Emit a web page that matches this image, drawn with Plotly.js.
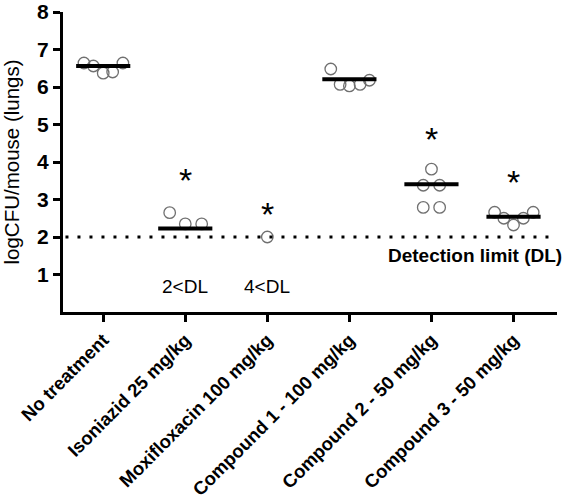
<!DOCTYPE html>
<html><head><meta charset="utf-8">
<script src="https://cdn.plot.ly/plotly-3.0.1.min.js"></script>
<style>html,body{margin:0;padding:0;background:#fff}#chart{width:566px;height:503px}</style>
</head><body><div id="chart"></div>
<script>
// ---- data ----
const categories = ["No treatment", "Isoniazid 25 mg/kg", "Moxifloxacin 100 mg/kg",
  "Compound 1 - 100 mg/kg", "Compound 2 - 50 mg/kg", "Compound 3 - 50 mg/kg"];
const noTreatment   = [6.64, 6.56, 6.37, 6.40, 6.64];
const isoniazid     = [2.65, 2.35, 2.35];          // 2 mice < DL
const moxifloxacin  = [2.00];                      // 4 mice < DL
const compound1     = [6.48, 6.07, 6.03, 6.07, 6.18];
const compound2     = [3.81, 3.38, 3.38, 2.79, 2.79];
const compound3     = [2.66, 2.50, 2.32, 2.50, 2.66];
const medians       = [6.56, 2.23, null, 6.21, 3.41, 2.54];
const asteriskY     = [null, 3.76, 2.85, null, 4.85, 3.71];
const belowDLLabels = ["", "2<DL", "4<DL", "", "", ""];
const detectionLimit = 2;
const yTicks = [1, 2, 3, 4, 5, 6, 7, 8];

// ---- layout helpers (horizontal scatter offsets, in category units) ----
const groups = [noTreatment, isoniazid, moxifloxacin, compound1, compound2, compound3];
const swarm = [
  [-0.235, -0.12, 0, 0.115, 0.24],
  [-0.19, 0, 0.2],
  [0],
  [-0.227, -0.113, 0, 0.13, 0.244],
  [0, -0.1, 0.1, -0.1, 0.1],
  [-0.23, -0.118, 0, 0.12, 0.24]
];

const FONT = "Arial, 'Liberation Sans', Helvetica, sans-serif";
const traces = [];
const px = [], py = [];
groups.forEach((vals, gi) => {
  vals.forEach((v, j) => { px.push(gi + swarm[gi][j]); py.push(v); });
});
traces.push({
  type: "scatter", mode: "markers", x: px, y: py, hoverinfo: "y",
  marker: { symbol: "circle-open", size: 11.5, color: "#707070", line: { width: 1.3, color: "#707070" } },
  showlegend: false, cliponaxis: false
});
medians.forEach((m, gi) => {
  if (m === null) return;
  traces.push({
    type: "scatter", mode: "lines", x: [gi - 0.33, gi + 0.33], y: [m, m],
    line: { color: "#000", width: 4 }, showlegend: false, hoverinfo: "skip"
  });
});

const annotations = [];
asteriskY.forEach((a, gi) => {
  if (a === null) return;
  annotations.push({ x: gi, y: a, xref: "x", yref: "y", text: "*", showarrow: false,
    font: { family: FONT, size: 34, color: "#000" }, yshift: -9 });
});
belowDLLabels.forEach((t, gi) => {
  if (!t) return;
  annotations.push({ x: gi, y: 0.67, xref: "x", yref: "y", text: t.replace("<", "&lt;"), showarrow: false,
    font: { family: FONT, size: 19, color: "#000" } });
});
annotations.push({ x: 1, y: 1.52, xref: "paper", yref: "y", xanchor: "right", xshift: 7,
  text: "Detection limit (DL)", showarrow: false,
  font: { family: FONT, size: 19, color: "#000", weight: "bold" } });

const layout = {
  width: 566, height: 503,
  margin: { l: 63, r: 9, t: 12, b: 191 },
  paper_bgcolor: "#fff", plot_bgcolor: "#fff",
  font: { family: FONT, color: "#000" },
  showlegend: false,
  xaxis: {
    range: [-0.49, 5.53], tickmode: "array", tickvals: categories.map((c, i) => i), ticktext: categories,
    tickangle: -45, showgrid: false, zeroline: false, showline: true, linewidth: 3, linecolor: "#000",
    ticks: "outside", ticklen: 7, tickwidth: 3, tickcolor: "#000",
    tickfont: { family: FONT, size: 18.5, weight: "bold", color: "#000" }
  },
  yaxis: {
    range: [0, 8], tickmode: "array", tickvals: yTicks, showgrid: false, zeroline: false,
    showline: true, linewidth: 3, linecolor: "#000",
    ticks: "outside", ticklen: 7, tickwidth: 3, tickcolor: "#000",
    tickfont: { family: FONT, size: 21, weight: "bold", color: "#000" },
    title: { text: "logCFU/mouse (lungs)", font: { family: FONT, size: 20.5, color: "#000" }, standoff: 14 }
  },
  shapes: [{
    type: "line", xref: "paper", yref: "y", x0: 0.005, x1: 1, y0: detectionLimit, y1: detectionLimit,
    line: { color: "#000", width: 3, dash: "3px,9px" }
  }],
  annotations: annotations
};

Plotly.newPlot("chart", traces, layout, { displayModeBar: false, staticPlot: true });
</script>
</body></html>
